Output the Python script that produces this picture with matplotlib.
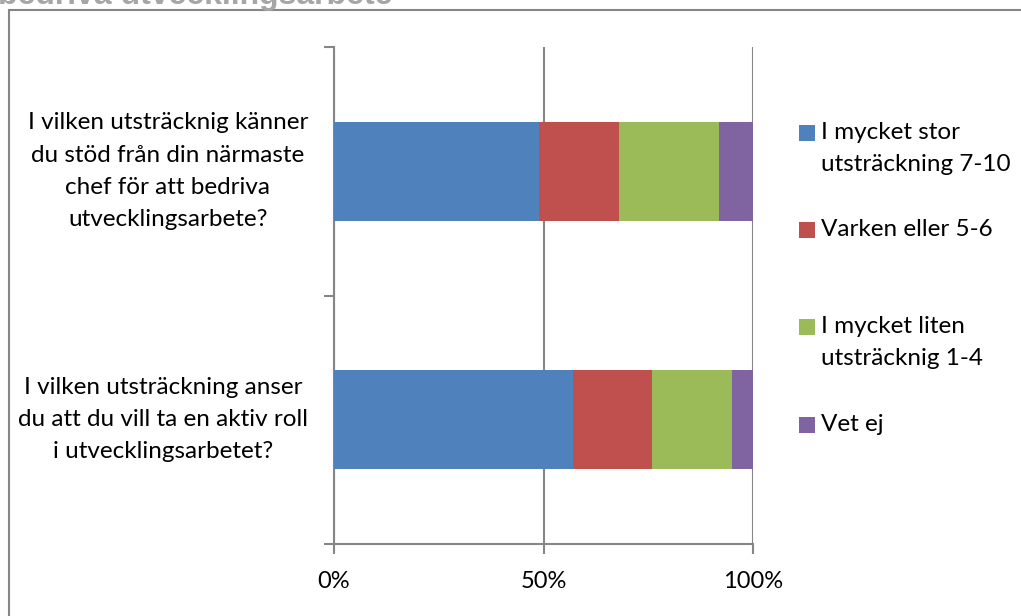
import matplotlib
matplotlib.use("Agg")
import matplotlib.pyplot as plt
from matplotlib.patches import Rectangle
import numpy as np

plt.rcParams['font.family'] = ['Lato', 'DejaVu Sans']

questions = [
    "I vilken utsträcknig känner\ndu stöd från din närmaste\nchef för att bedriva\nutvecklingsarbete?",
    "I vilken utsträckning anser\ndu att du vill ta en aktiv roll\ni utvecklingsarbetet?",
]
series_names = [
    "I mycket stor\nutsträckning 7-10",
    "Varken eller 5-6",
    "I mycket liten\nutsträcknig 1-4",
    "Vet ej",
]
stor = [0.49, 0.571]
varken = [0.19, 0.188]
liten = [0.24, 0.191]
vetej = [0.08, 0.05]
colors = ["#4F81BD", "#C0504D", "#9BBB59", "#8064A2"]
xtick_labels = ["0%", "50%", "100%"]
title_text = "bedriva utvecklingsarbete"

W, H = 1021, 616
fig = plt.figure(figsize=(W / 100, H / 100), dpi=100)
ax = fig.add_axes([334 / W, (H - 544) / H, 419 / W, 497 / H])

grid_c = "#868686"
ypos = np.array([1.5, 0.5])
left = np.zeros(2)
for vals, c in zip([stor, varken, liten, vetej], colors):
    ax.barh(ypos, vals, left=left, height=0.4, color=c, edgecolor="none", zorder=3)
    left += np.array(vals)

FS = 17.5
ax.set_xlim(0, 1)
ax.set_ylim(0, 2)
ax.set_xticks([0, 0.5, 1.0])
ax.set_xticklabels(xtick_labels, fontsize=17)
ax.set_yticks([0, 1, 2])
ax.set_yticklabels([])
ax.tick_params(axis='x', direction='out', length=7, width=1.5, color=grid_c, pad=12.5)
ax.tick_params(axis='y', direction='out', length=7, width=1.5, color=grid_c)
for s in ['top', 'right']:
    ax.spines[s].set_visible(False)
for s in ['left', 'bottom']:
    ax.spines[s].set_color(grid_c)
    ax.spines[s].set_linewidth(1.5)
ax.grid(axis='x', color=grid_c, linewidth=1.5, zorder=0)
ax.set_axisbelow(True)

trans = matplotlib.transforms.blended_transform_factory(fig.transFigure, ax.transData)
for q, y in zip(questions, ypos):
    fig.text(308 / W, y, q, transform=trans, ha='right', va='center',
             multialignment='center', fontsize=FS, linespacing=1.66)

# legend drawn manually
entry_tops = [133, 230, 327, 425]
for name, c, yc in zip(series_names, colors, entry_tops):
    fig.patches.append(Rectangle((799 / W, 1 - (yc + 8) / H), 16 / W, 16 / H,
                                 transform=fig.transFigure, facecolor=c, edgecolor='none'))
    fig.text(821 / W, 1 - (yc - 11) / H, name, ha='left', va='top',
             fontsize=FS, linespacing=1.62)

# outer frame (extends beyond image)
fig.patches.append(Rectangle((9 / W, -0.2), 1.2, 1 - 10 / H + 0.2, transform=fig.transFigure,
                             facecolor='none', edgecolor=grid_c, linewidth=1.5))

# clipped title
fig.text(-2 / W, 1 - 4 / H, title_text, ha='left', va='baseline', fontsize=23,
         fontweight='bold', color='#A6A6A6', family=['Liberation Sans', 'DejaVu Sans'])

fig.savefig("out.png", dpi=100)
